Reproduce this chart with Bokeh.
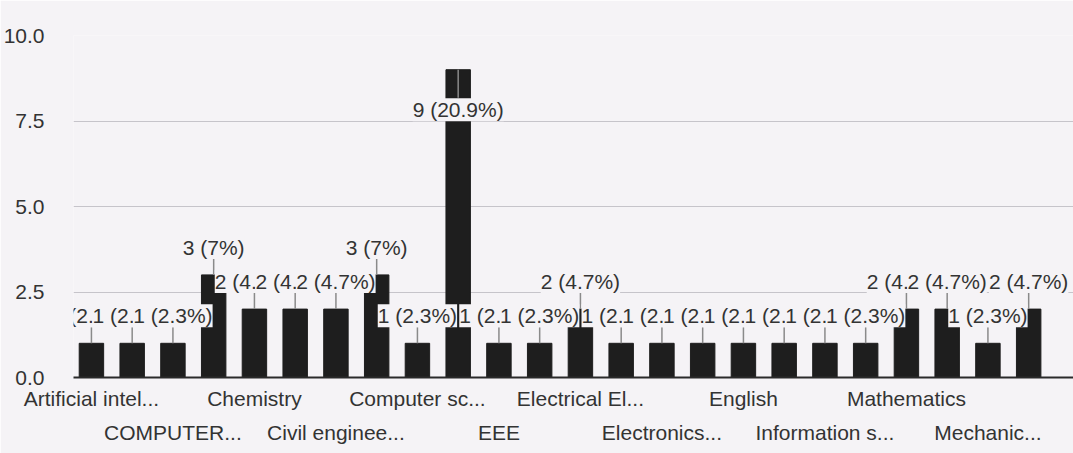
from bokeh.plotting import figure
from bokeh.models import (ColumnDataSource, FixedTicker, Range1d, NumeralTickFormatter,
                          LabelSet, LinearAxis)
from bokeh.core.properties import value
from bokeh.embed import file_html
from bokeh.resources import INLINE

# ---- data ----
counts = [1, 1, 1, 3, 2, 2, 2, 3, 1, 9, 1, 1, 2, 1, 1, 1, 1, 1, 1, 1, 2, 2, 1, 2]
# only every second category label is shown on the chart (staggered in two rows)
tick_labels = ["Artificial intel...", "COMPUTER...", "Chemistry", "Civil enginee...",
               "Computer sc...", "EEE", "Electrical El...", "Electronics...",
               "English", "Information s...", "Mathematics", "Mechanic..."]
y_ticks = [0, 2.5, 5.0, 7.5, 10.0]

# ---- styles ----
BG = "#f5f3f6"
BAR = "#1e1e1e"
TXT = "#333333"
FONT = "Liberation Sans"
FS = "21px"
W, H = 1073, 453
TOP, BOTTOM, LEFT = 35, 76, 70
Y_MAX = 10
PX_PER_UNIT = (H - TOP - BOTTOM) / Y_MAX

total = sum(counts)
xs = list(range(len(counts)))
labels = [f"{v} ({round(v / total * 100, 1):g}%)" for v in counts]

p = figure(width=W, height=H, output_backend="svg", toolbar_location=None,
           x_range=Range1d(-0.44, 24.1), y_range=Range1d(0, Y_MAX),
           min_border_left=LEFT, min_border_right=0, min_border_top=TOP, min_border_bottom=BOTTOM,
           background_fill_color=BG, border_fill_color=BG, outline_line_color=None)

# grid
p.xgrid.grid_line_color = None
p.ygrid.ticker = FixedTicker(ticks=y_ticks)
p.ygrid.grid_line_color = "#c6c4ca"
p.ygrid.grid_line_width = 1.2

# y axis
ya = p.yaxis[0]
ya.ticker = FixedTicker(ticks=y_ticks)
ya.formatter = NumeralTickFormatter(format="0.0")
ya.axis_line_color = None
ya.major_tick_line_color = None
ya.minor_tick_line_color = None
ya.major_label_standoff = 23
ya.major_label_text_font = FONT
ya.major_label_text_font_size = FS
ya.major_label_text_color = TXT

# x axis: two stacked axes give the staggered category labels
lab_x = xs[0::2]
row1_ticks, row2_ticks = lab_x[0::2], lab_x[1::2]
row1_labels, row2_labels = tick_labels[0::2], tick_labels[1::2]

xa = p.xaxis[0]
xa.ticker = FixedTicker(ticks=row1_ticks)
xa.major_label_overrides = {t: l for t, l in zip(row1_ticks, row1_labels)}
xa.axis_line_color = "#2a2a2a"
xa.axis_line_width = 2
xa.major_tick_line_color = None
xa.minor_tick_line_color = None
xa.major_label_standoff = 3
xa.major_label_text_font = FONT
xa.major_label_text_font_size = FS
xa.major_label_text_color = TXT

xa2 = LinearAxis(ticker=FixedTicker(ticks=row2_ticks),
                 major_label_overrides={t: l for t, l in zip(row2_ticks, row2_labels)},
                 axis_line_color=None, major_tick_line_color=None, minor_tick_line_color=None,
                 major_label_standoff=2, major_label_text_font=FONT,
                 major_label_text_font_size=FS, major_label_text_color=TXT)
p.add_layout(xa2, "below")

# bars
src = ColumnDataSource(dict(x=xs, top=counts))
p.vbar(x="x", top="top", width=0.6, bottom=0, source=src, fill_color=BAR, line_color=BAR)

# annotations with stems
STEM_PX = 16       # gap between bar top and label bottom
INSIDE_PX = 40     # label centre below bar top when it does not fit above
TXT_PX = 24
out_x, out_y, out_t, in_x, in_y, in_t = [], [], [], [], [], []
s_x, s_y0, s_y1 = [], [], []
for x, v, t in zip(xs, counts, labels):
    if (v * PX_PER_UNIT + STEM_PX + TXT_PX) > Y_MAX * PX_PER_UNIT:
        in_x.append(x); in_y.append(v); in_t.append(t)
        s_x.append(x); s_y0.append(v); s_y1.append(v - (INSIDE_PX - TXT_PX / 2) / PX_PER_UNIT)
    else:
        out_x.append(x); out_y.append(v); out_t.append(t)
        s_x.append(x); s_y0.append(v); s_y1.append(v + STEM_PX / PX_PER_UNIT)

p.segment(x0=s_x, y0=s_y0, x1=s_x, y1=s_y1, line_color="#8a8a8a", line_width=1.5)

p.add_layout(LabelSet(x="x", y="y", text="t", y_offset=STEM_PX,
                      source=ColumnDataSource(dict(x=out_x, y=out_y, t=out_t)),
                      text_align="center", text_baseline="bottom",
                      text_font=value(FONT), text_font_size=value(FS), text_color=value(TXT),
                      background_fill_color=value(BG)))
p.add_layout(LabelSet(x="x", y="y", text="t", y_offset=-INSIDE_PX,
                      source=ColumnDataSource(dict(x=in_x, y=in_y, t=in_t)),
                      text_align="center", text_baseline="middle",
                      text_font=value(FONT), text_font_size=value(FS), text_color=value(TXT),
                      background_fill_color=value(BG)))

open("out.html", "w").write(file_html(p, INLINE))
